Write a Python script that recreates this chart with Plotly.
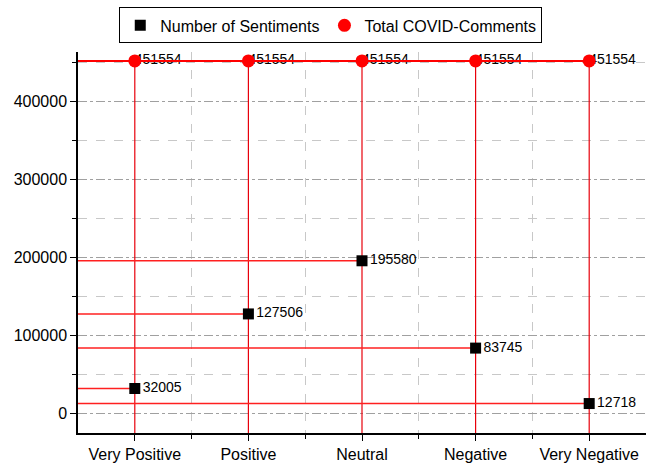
import plotly.graph_objects as go

categories = ["Very Positive", "Positive", "Neutral", "Negative", "Very Negative"]
sentiments = [32005, 127506, 195580, 83745, 12718]
total_comments = [451554, 451554, 451554, 451554, 451554]
y_ticks = [0, 100000, 200000, 300000, 400000]

x_idx = list(range(len(categories)))
x_min, x_max = -0.5, 4.5
y_min, y_max = -25000, 463000

def drop_lines(values):
    vx, vy, hx, hy = [], [], [], []
    for i, v in zip(x_idx, values):
        vx += [i, i, None]
        vy += [v, y_min, None]
        hx += [x_min, i, None]
        hy += [v, v, None]
    return vx, vy, hx, hy

FONT = "Liberation Sans, Arial, sans-serif"
fig = go.Figure()

# circle labels (drawn first so the red line crosses them)
fig.add_trace(go.Scatter(x=x_idx, y=total_comments, mode="text",
                         text=[str(v) for v in total_comments], textposition="middle right",
                         textfont=dict(size=14, color="black", family=FONT),
                         showlegend=False, hoverinfo="skip"))

cvx, cvy, chx, chy = drop_lines(total_comments)
fig.add_trace(go.Scatter(x=cvx, y=cvy, mode="lines", line=dict(color="#e8000b", width=1.2),
                         showlegend=False, hoverinfo="skip"))
fig.add_trace(go.Scatter(x=chx, y=chy, mode="lines", line=dict(color="#ff0000", width=2),
                         showlegend=False, hoverinfo="skip"))

svx, svy, shx, shy = drop_lines(sentiments)
fig.add_trace(go.Scatter(x=shx, y=shy, mode="lines", line=dict(color="#ff2020", width=1.5),
                         showlegend=False, hoverinfo="skip"))

fig.add_trace(go.Scatter(x=x_idx, y=sentiments, mode="markers+text", name="Number of Sentiments",
                         marker=dict(symbol="square", size=11, color="black"),
                         text=[str(v) for v in sentiments], textposition="middle right",
                         textfont=dict(size=14, color="black", family=FONT)))
fig.add_trace(go.Scatter(x=x_idx, y=total_comments, mode="markers", name="Total COVID-Comments",
                         marker=dict(symbol="circle", size=13, color="#ff0000")))

fig.update_layout(
    width=646, height=468,
    margin=dict(l=78, r=0, t=52, b=35, autoexpand=False),
    plot_bgcolor="white", paper_bgcolor="white",
    font=dict(family=FONT, size=16, color="black"),
    legend=dict(orientation="h", x=0.445, y=1.117,
                xanchor="center", yanchor="top", bordercolor="black", borderwidth=1,
                font=dict(size=16), itemwidth=30, tracegroupgap=0),
    xaxis=dict(range=[x_min, x_max], tickvals=x_idx, ticktext=categories, automargin=False,
               showgrid=False, zeroline=False, showline=True, linecolor="black", linewidth=1.5,
               ticks="outside", ticklen=6, tickwidth=1.2, tickcolor="black",
               tickfont=dict(size=16),
               minor=dict(tickvals=[0.5, 1.5, 2.5, 3.5], ticks="outside", ticklen=4,
                          tickcolor="black", showgrid=True, gridcolor="#c8c8c8",
                          griddash="dash", gridwidth=1)),
    yaxis=dict(range=[y_min, y_max], tickvals=y_ticks, ticktext=[str(v) for v in y_ticks],
               automargin=False,
               showgrid=True, gridcolor="#a0a0a0", griddash="dashdot", gridwidth=1,
               zeroline=False, showline=True, linecolor="black", linewidth=1.5,
               ticks="outside", ticklen=6, tickwidth=1.2, tickcolor="black",
               tickfont=dict(size=16),
               minor=dict(tickvals=[50000, 150000, 250000, 350000, 450000], ticks="outside",
                          ticklen=4, tickcolor="black", showgrid=True, gridcolor="#c8c8c8",
                          griddash="dash", gridwidth=1)),
)

fig.write_html("out.html", config={"displayModeBar": False},
               post_script="document.body.style.margin='0';document.body.style.overflow='hidden';")
